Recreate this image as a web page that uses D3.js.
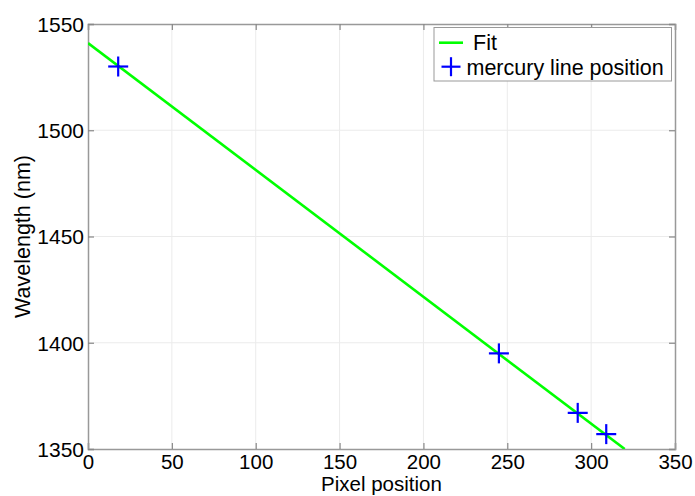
<!DOCTYPE html>
<html><head><meta charset="utf-8">
<script src="https://cdn.jsdelivr.net/npm/d3@7"></script>
<style>body{margin:0;background:#fff}svg{display:block}text{font-family:"Liberation Sans",Arial,sans-serif;fill:#000}</style>
</head><body><svg id="c" width="695" height="496"></svg>
<script>
const xTicks = [0,50,100,150,200,250,300,350];
const yTicks = [1350,1400,1450,1500,1550];
const pixelPos = [18, 245, 292, 309];
const wavelength = [1530, 1395, 1367, 1357];
const fitX = [0, 320];
const fitY = [1541, 1350];
const legendLabels = ["Fit", "mercury line position"];

const W=695,H=496, m={l:88,r:20,t:24,b:47};
const svg=d3.select("#c");
const x=d3.scaleLinear().domain([0,350]).range([m.l,W-m.r]);
const y=d3.scaleLinear().domain([1350,1550]).range([H-m.b,m.t]);
const fs=21.5, tfs=20.5, xfs=20.5;
const fmt=d3.format("d");

svg.append("defs").append("clipPath").attr("id","clip").append("rect")
  .attr("x",m.l).attr("y",m.t).attr("width",W-m.l-m.r).attr("height",H-m.t-m.b);

// grid
svg.append("g").selectAll("line").data(xTicks.slice(1,-1)).join("line")
  .attr("x1",d=>x(d)).attr("x2",d=>x(d)).attr("y1",m.t).attr("y2",H-m.b)
  .attr("stroke","#ebebeb").attr("stroke-width",1);
svg.append("g").selectAll("line").data(yTicks.slice(1,-1)).join("line")
  .attr("y1",d=>y(d)).attr("y2",d=>y(d)).attr("x1",m.l).attr("x2",W-m.r)
  .attr("stroke","#ebebeb").attr("stroke-width",1);

// axes
const tl=6;
const gx=svg.append("g").attr("transform",`translate(0,${H-m.b})`)
  .call(d3.axisBottom(x).tickValues(xTicks).tickSize(-tl).tickPadding(5).tickFormat(fmt));
const gxt=svg.append("g").attr("transform",`translate(0,${m.t})`)
  .call(d3.axisTop(x).tickValues(xTicks).tickSize(-tl).tickFormat(""));
const gy=svg.append("g").attr("transform",`translate(${m.l},0)`)
  .call(d3.axisLeft(y).tickValues(yTicks).tickSize(-tl).tickPadding(4).tickFormat(fmt));
const gyr=svg.append("g").attr("transform",`translate(${W-m.r},0)`)
  .call(d3.axisRight(y).tickValues(yTicks).tickSize(-tl).tickFormat(""));
[gx,gxt,gy,gyr].forEach(g=>{
  g.selectAll("path").attr("stroke","#999").attr("stroke-width",1.5);
  g.selectAll("line").attr("stroke","#888").attr("stroke-width",1.2);
  g.selectAll("text").style("font-size",tfs+"px").style("font-family",'"Liberation Sans",Arial,sans-serif').attr("fill","#000");
});
gy.selectAll("text").style("font-size","21px").attr("dy","0.35em");

// fit line
const line=d3.line().x(d=>x(d[0])).y(d=>y(d[1]));
svg.append("path").datum(d3.zip(fitX,fitY)).attr("d",line).attr("clip-path","url(#clip)")
  .attr("fill","none").attr("stroke","#00ff00").attr("stroke-width",2.6);

// markers
const plus=(g,cx,cy,s)=>{
  g.append("line").attr("x1",cx-s).attr("x2",cx+s).attr("y1",cy).attr("y2",cy);
  g.append("line").attr("x1",cx).attr("x2",cx).attr("y1",cy-s).attr("y2",cy+s);
};
const mk=svg.append("g").attr("stroke","#0000ff").attr("stroke-width",2.2);
d3.zip(pixelPos,wavelength).forEach(d=>plus(mk,x(d[0]),y(d[1]),10));

// axis labels
svg.append("text").attr("x",(m.l+W-m.r)/2).attr("y",491.3).attr("text-anchor","middle")
  .style("font-size",xfs+"px").text("Pixel position");
svg.append("text").attr("transform",`translate(30,${(m.t+H-m.b)/2}) rotate(-90)`)
  .attr("text-anchor","middle").style("font-size",fs+"px").text("Wavelength (nm)");

// legend
const lg=svg.append("g");
lg.append("rect").attr("x",434).attr("y",27.5).attr("width",237.5).attr("height",53.5)
  .attr("fill","#fff").attr("stroke","#999").attr("stroke-width",1);
lg.append("line").attr("x1",439).attr("x2",463).attr("y1",42.7).attr("y2",42.7)
  .attr("stroke","#00ff00").attr("stroke-width",2.6);
lg.append("text").attr("x",473).attr("y",49.5).style("font-size",fs+"px").text(legendLabels[0]);
const lm=lg.append("g").attr("stroke","#0000ff").attr("stroke-width",2.2);
plus(lm,451,66.7,9.5);
lg.append("text").attr("x",466.5).attr("y",74.5).style("font-size",fs+"px").text(legendLabels[1]);
</script></body></html>
